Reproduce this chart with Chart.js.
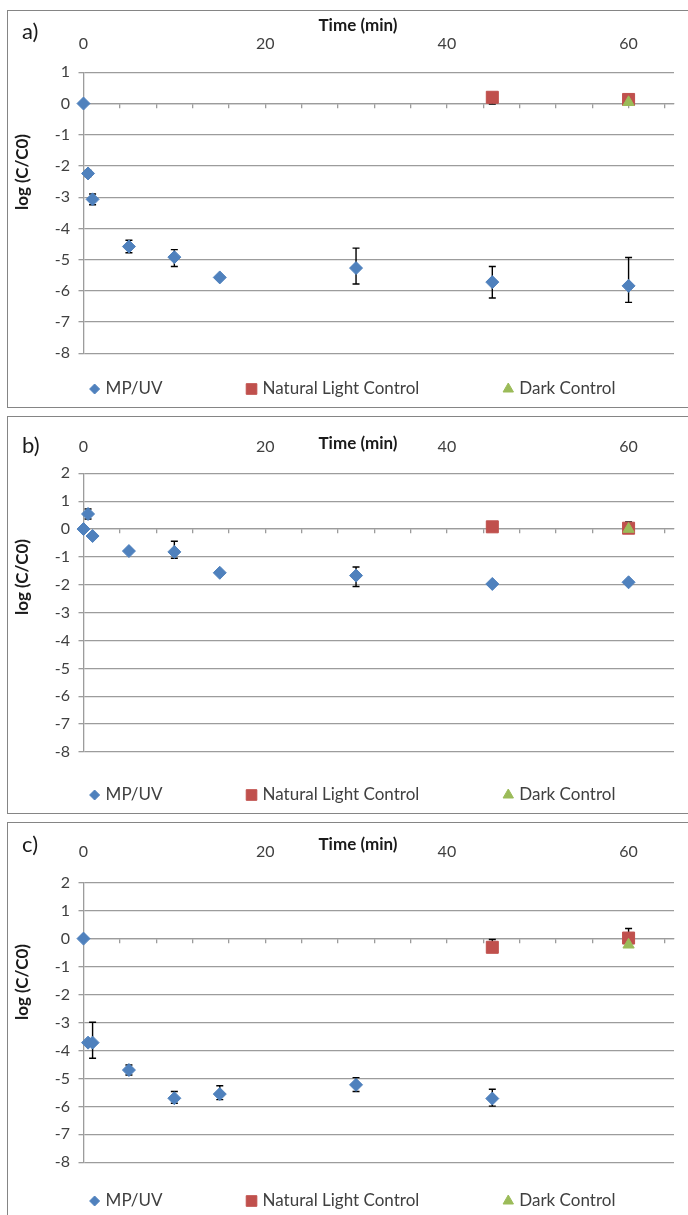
<!DOCTYPE html>
<html>
<head>
<meta charset="utf-8">
<title>log (C/C0) vs time</title>
<script src="https://cdn.jsdelivr.net/npm/chart.js@4.4.1/dist/chart.umd.min.js"></script>
<style>
    html, body { margin: 0; padding: 0; background: #fff; overflow: hidden; }
    body { width: 688px; height: 1215px; position: relative; }
    .panel { position: absolute; left: 7px; width: 700px; height: 396px; border: 1px solid #858585; background: #fff; }
    .panel canvas { display: block; }
</style>
</head>
<body>
<div class="panel" style="top:10px"><canvas id="chartA" width="700" height="396"></canvas></div>
<div class="panel" style="top:416px"><canvas id="chartB" width="700" height="396"></canvas></div>
<div class="panel" style="top:822px"><canvas id="chartC" width="700" height="396"></canvas></div>

<script>
/* ============================================================
   DATA
   ============================================================ */
const timeMin = [0, 0.5, 1, 5, 10, 15, 30, 45, 60];
const timeMinC = [0, 0.5, 1, 5, 10, 15, 30, 45];
const controlTimeMin = [45, 60];
const darkTimeMin = [60];
const xTicks = [0, 20, 40, 60];
const legendLabels = ['MP/UV', 'Natural Light Control', 'Dark Control'];

// a)
const uvA = [0, -2.24, -3.07, -4.58, -4.92, -5.57, -5.27, -5.72, -5.84];
const uvUpA = [0, 0.1, 0.17, 0.2, 0.24, 0, 0.64, 0.5, 0.91];
const uvDownA = [0, 0.1, 0.17, 0.2, 0.3, 0, 0.51, 0.51, 0.53];
const lightA = [0.2, 0.13];
const lightUpA = [0.1, 0];
const lightDownA = [0.22, 0];
const darkA = [0.04];

// b)
const uvB = [0, 0.54, -0.25, -0.79, -0.82, -1.57, -1.67, -1.97, -1.91];
const uvUpB = [0, 0.18, 0, 0, 0.38, 0, 0.31, 0, 0.05];
const uvDownB = [0, 0.18, 0, 0, 0.23, 0, 0.39, 0, 0.05];
const lightB = [0.08, 0.03];
const lightUpB = [0, 0.22];
const lightDownB = [0, 0.1];
const darkB = [0.0];

// c)
const uvC = [0, -3.72, -3.72, -4.70, -5.71, -5.56, -5.23, -5.72];
const uvUpC = [0, 0, 0.73, 0.18, 0.24, 0.30, 0.26, 0.33];
const uvDownC = [0, 0, 0.56, 0.18, 0.18, 0.20, 0.24, 0.27];
const lightC = [-0.31, 0.02];
const lightUpC = [0.28, 0.34];
const lightDownC = [0.12, 0.12];
const darkC = [-0.22];

/* ============================================================
   STYLE
   ============================================================ */
const BLUE = '#4F81BD';
const RED = '#C0504D';
const GREEN = '#9BBB59';
const GRID = '#9C9C9C';
const TEXT = '#404040';
const FONT = 'Lato, "Open Sans", sans-serif';

function toPoints(xs, ys) {
    return xs.map((x, i) => ({ x: x, y: ys[i] }));
}

// Vertical error bars with caps, drawn under the markers
const errorBars = {
    id: 'errorBars',
    beforeDatasetsDraw(chart) {
        const ctx = chart.ctx;
        const yScale = chart.scales.y;
        ctx.save();
        ctx.strokeStyle = '#000';
        ctx.lineWidth = 1.4;
        chart.data.datasets.forEach((ds, i) => {
            if (!ds.errUp) return;
            const meta = chart.getDatasetMeta(i);
            meta.data.forEach((pt, j) => {
                const up = ds.errUp[j] || 0;
                const down = ds.errDown[j] || 0;
                if (!up && !down) return;
                const v = ds.data[j].y;
                const yTop = yScale.getPixelForValue(v + up);
                const yBot = yScale.getPixelForValue(v - down);
                ctx.beginPath();
                ctx.moveTo(pt.x, yTop);
                ctx.lineTo(pt.x, yBot);
                ctx.moveTo(pt.x - 3.5, yTop);
                ctx.lineTo(pt.x + 3.5, yTop);
                ctx.moveTo(pt.x - 3.5, yBot);
                ctx.lineTo(pt.x + 3.5, yBot);
                ctx.stroke();
            });
        });
        ctx.restore();
    }
};

// Panel letter, axis titles and the spread-out legend row
const panelText = {
    id: 'panelText',
    afterDraw(chart, args, opts) {
        const ctx = chart.ctx;
        ctx.save();
        ctx.fillStyle = '#1a1a1a';
        ctx.textBaseline = 'middle';

        ctx.font = '22px ' + FONT;
        ctx.textAlign = 'left';
        ctx.fillText(opts.letter, 14, opts.letterY);

        ctx.font = 'bold 17px ' + FONT;
        ctx.textAlign = 'center';
        ctx.fillText('Time (min)', 350, opts.xTitleY);

        ctx.save();
        ctx.translate(15, opts.yTitleY);
        ctx.rotate(-Math.PI / 2);
        ctx.fillText('log (C/C0)', 0, 0);
        ctx.restore();

        // legend
        ctx.font = '17px ' + FONT;
        ctx.textAlign = 'left';
        const sets = chart.data.datasets;
        const widths = sets.map(ds => ctx.measureText(ds.label).width);
        const textGap = 11, itemGap = 89, half = 6;
        let total = half;
        widths.forEach((w, i) => { total += (i ? itemGap : 0) + textGap + w; });
        let cx = 344 - total / 2 + half;
        const y = chart.height - 18;
        sets.forEach((ds, i) => {
            ctx.fillStyle = ds.backgroundColor;
            ctx.strokeStyle = ds.borderColor;
            Chart.helpers.drawPoint(ctx, {
                pointStyle: ds.pointStyle,
                radius: opts.legendRadius[i],
                rotation: 0,
                borderWidth: 1
            }, cx, y);
            ctx.fillStyle = TEXT;
            ctx.fillText(ds.label, cx + textGap, y);
            cx += textGap + widths[i] + itemGap;
        });
        ctx.restore();
    }
};

/* ============================================================
   PANELS
   ============================================================ */
function buildPanel(id, cfg) {
    const tickFont = { family: FONT, size: 16 };
    return new Chart(document.getElementById(id), {
        type: 'scatter',
        data: {
            datasets: [
                {
                    label: legendLabels[0],
                    data: toPoints(cfg.uvTime, cfg.uv),
                    errUp: cfg.uvUp,
                    errDown: cfg.uvDown,
                    pointStyle: 'rectRot',
                    pointRadius: 6.5,
                    backgroundColor: BLUE,
                    borderColor: BLUE,
                    borderWidth: 1,
                    order: 3,
                    clip: false
                },
                {
                    label: legendLabels[1],
                    data: toPoints(controlTimeMin, cfg.light),
                    errUp: cfg.lightUp,
                    errDown: cfg.lightDown,
                    pointStyle: 'rect',
                    pointRadius: 8.5,
                    backgroundColor: RED,
                    borderColor: RED,
                    borderWidth: 1,
                    order: 2,
                    clip: false
                },
                {
                    label: legendLabels[2],
                    data: toPoints(darkTimeMin, cfg.dark),
                    pointStyle: 'triangle',
                    pointRadius: 6.5,
                    backgroundColor: GREEN,
                    borderColor: GREEN,
                    borderWidth: 1,
                    order: 1,
                    clip: false
                }
            ]
        },
        options: {
            responsive: false,
            animation: false,
            events: [],
            layout: {
                padding: { left: 0, top: 0, right: 34, bottom: 396 - cfg.plotBottom }
            },
            plugins: {
                legend: { display: false },
                tooltip: { enabled: false },
                panelText: {
                    letter: cfg.letter,
                    letterY: cfg.letterY,
                    xTitleY: cfg.xTitleY,
                    yTitleY: cfg.yTitleY,
                    legendRadius: [5, 7.5, 6]
                }
            },
            scales: {
                x: {
                    type: 'linear',
                    position: 'top',
                    min: 0,
                    max: 65,
                    grid: { display: false, drawTicks: false },
                    border: { display: false },
                    ticks: { font: tickFont, color: TEXT, padding: cfg.xTickPad, includeBounds: false },
                    afterBuildTicks: s => { s.ticks = xTicks.map(v => ({ value: v })); },
                    afterFit: s => { s.height = cfg.plotTop; }
                },
                // horizontal axis line crossing at zero, minor tick marks every 4 min
                xz: {
                    type: 'linear',
                    axis: 'x',
                    position: { y: 0 },
                    min: 0,
                    max: 65,
                    grid: { drawOnChartArea: false, color: GRID, lineWidth: 1.3, tickLength: 4 },
                    border: { color: GRID, width: 1.3 },
                    ticks: { display: false, stepSize: 4, includeBounds: false }
                },
                y: {
                    type: 'linear',
                    min: -8,
                    max: cfg.yMax,
                    grid: { color: GRID, lineWidth: 1.3, tickLength: 5 },
                    border: { color: GRID, width: 1.3 },
                    ticks: { stepSize: 1, font: tickFont, color: TEXT, padding: 8.5 },
                    afterFit: s => { s.width = 75.5; }
                }
            }
        },
        plugins: [errorBars, panelText]
    });
}

document.addEventListener('DOMContentLoaded', function() {
    buildPanel('chartA', {
        letter: 'a)', letterY: 21, xTitleY: 15, yTitleY: 161,
        plotTop: 61.3, plotBottom: 342.3, xTickPad: 18.7, yMax: 1,
        uvTime: timeMin, uv: uvA, uvUp: uvUpA, uvDown: uvDownA,
        light: lightA, lightUp: lightUpA, lightDown: lightDownA, dark: darkA
    });
    buildPanel('chartB', {
        letter: 'b)', letterY: 29, xTitleY: 26.5, yTitleY: 160,
        plotTop: 56.3, plotBottom: 335, xTickPad: 16.7, yMax: 2,
        uvTime: timeMin, uv: uvB, uvUp: uvUpB, uvDown: uvDownB,
        light: lightB, lightUp: lightUpB, lightDown: lightDownB, dark: darkB
    });
    buildPanel('chartC', {
        letter: 'c)', letterY: 22, xTitleY: 22, yTitleY: 159,
        plotTop: 59.7, plotBottom: 339.3, xTickPad: 21.1, yMax: 2,
        uvTime: timeMinC, uv: uvC, uvUp: uvUpC, uvDown: uvDownC,
        light: lightC, lightUp: lightUpC, lightDown: lightDownC, dark: darkC
    });
});
</script>
</body>
</html>
